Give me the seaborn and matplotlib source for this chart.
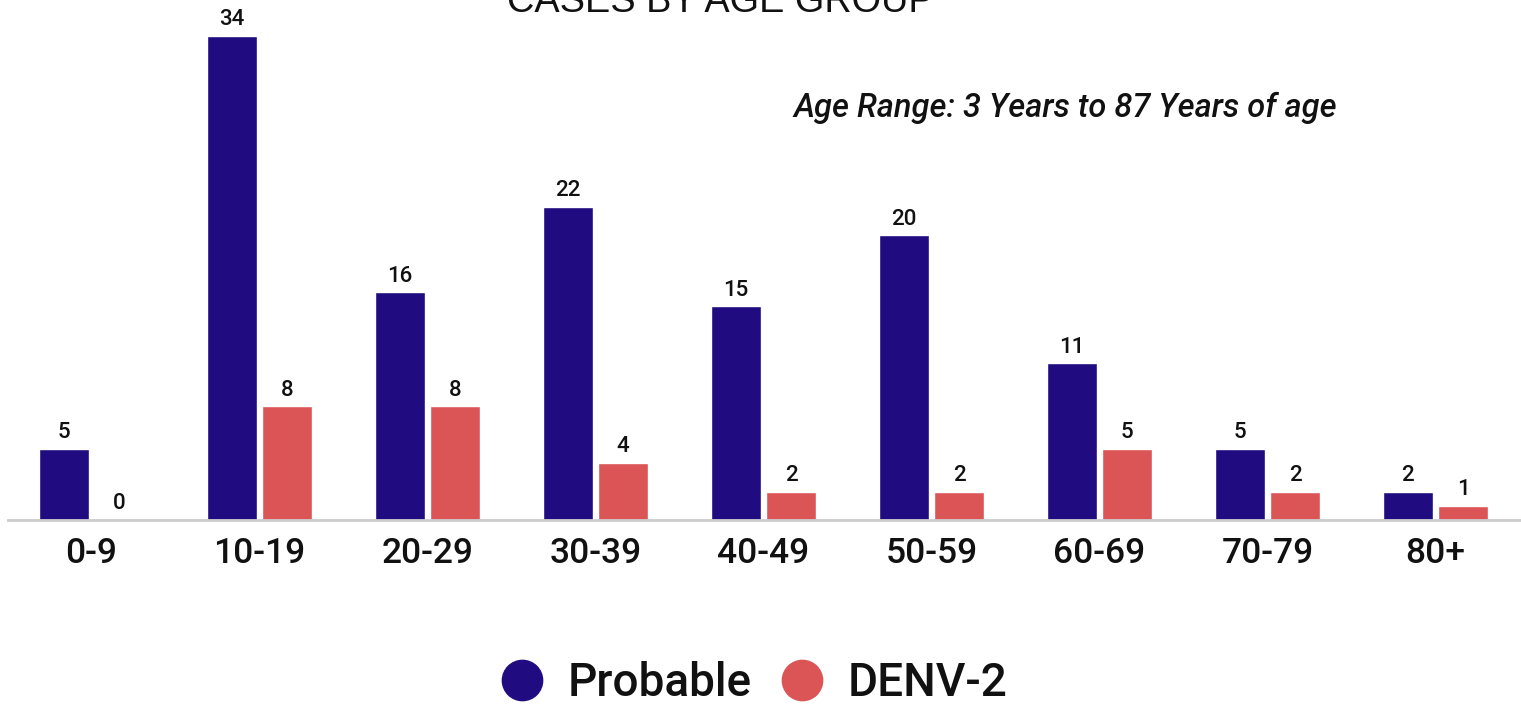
import seaborn as sns
import matplotlib.pyplot as plt
from matplotlib.lines import Line2D
import pandas as pd

age_groups = ["0-9", "10-19", "20-29", "30-39", "40-49", "50-59", "60-69", "70-79", "80+"]
probable = [5, 34, 16, 22, 15, 20, 11, 5, 2]
denv2 = [0, 8, 8, 4, 2, 2, 5, 2, 1]
series = ["Probable", "DENV-2"]
colors = ["#200C80", "#DB5456"]

df = pd.DataFrame({
    "age": age_groups * 2,
    "cases": probable + denv2,
    "series": [series[0]] * len(age_groups) + [series[1]] * len(age_groups),
})

sns.set_style("white")
plt.rcParams["font.family"] = ["Roboto", "DejaVu Sans"]

W, H = 1521, 721
fig = plt.figure(figsize=(W / 100, H / 100), dpi=100)
ax = fig.add_axes([7.5 / W, (H - 520) / H, 1512 / W, 36 * 14.24 / H])

sns.barplot(data=df, x="age", y="cases", hue="series", palette=colors,
            width=0.655, gap=0.09, legend=False, ax=ax, saturation=1)

for c in ax.containers:
    ax.bar_label(c, padding=4, fontsize=16, fontweight="medium", color="#111111")

ax.set_xlim(-0.5, 8.5)
ax.set_ylim(0, 36)
ax.set_xlabel("")
ax.set_ylabel("")
ax.set_yticks([])
ax.tick_params(axis="x", length=0, pad=12, labelsize=25.5, labelcolor="#111111")
for lab in ax.get_xticklabels():
    lab.set_fontweight("medium")
for s in ["top", "right", "left"]:
    ax.spines[s].set_visible(False)
ax.spines["bottom"].set_color("#CCCCCC")
ax.spines["bottom"].set_linewidth(2)

# title is clipped at the top edge in the original as well
fig.text(720 / W, 1 - 12 / H, "CASES BY AGE GROUP", family="Liberation Sans",
         fontsize=27.3, ha="center", va="baseline", color="#111111")
fig.text(1337 / W, 1 - 108 / H, "Age Range: 3 Years to 87 Years of age",
         fontsize=23.5, style="italic", fontweight="medium", ha="right",
         va="center", color="#111111")

handles = [Line2D([], [], ls="", marker="o", markersize=29, color=c) for c in colors]
fig.legend(handles, series, loc="center", bbox_to_anchor=(753 / W, 1 - 683 / H),
           frameon=False, ncol=2, handlelength=1, handletextpad=0.5,
           columnspacing=0.6, labelcolor="#111111",
           prop={"weight": "medium", "size": 33})

fig.savefig("out.png", dpi=100)
